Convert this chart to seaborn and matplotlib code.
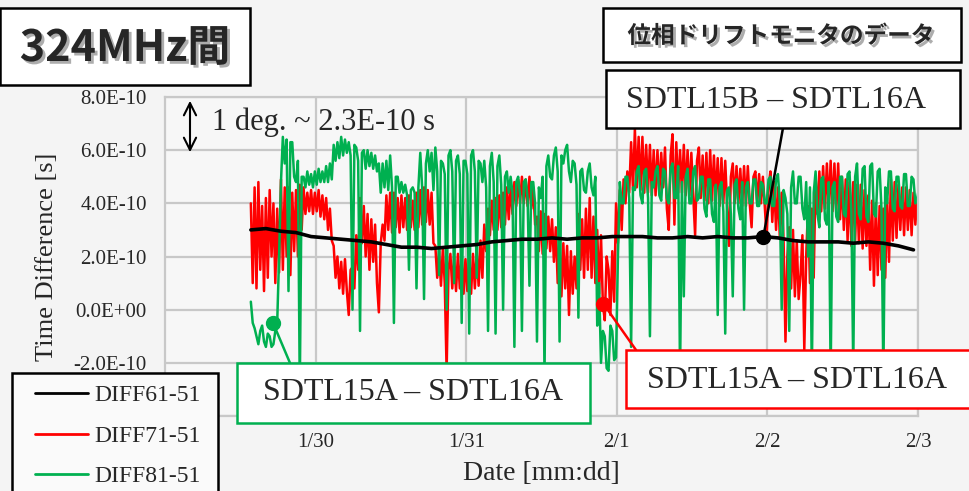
import numpy as np
import matplotlib
matplotlib.use("Agg")
import matplotlib.pyplot as plt
import matplotlib.patheffects as pe
from matplotlib.patches import Rectangle, FancyArrowPatch
from matplotlib.lines import Line2D
import seaborn as sns

# values in units of 1E-10 s
# DIFF71-51 / DIFF81-51 sampled every 0.0125 day from 1/29 13:40
diff71_51 = [
    4.0, 1.0, 4.6, 0.8,
    4.8, 1.5, 3.9, 0.7, 4.2, 1.2, 4.5, 2.0, 4.0, 1.0, 3.8, 1.4,
    4.9, 1.5, 4.6, 2.0, 4.6, 1.3, 4.4, 2.2, 4.5, 2.0, 4.7, 3.0,
    4.6, 3.6, 4.4, 3.7, 4.5, 3.6, 4.4, 3.7, 4.5, 3.5, 4.3, 3.4, 4.2, 3.0, 3.8, 2.6,
    2.4, 1.2, 2.0, 0.8, 1.8, 0.6, 1.9, 0.7, -0.2, 1.5, 1.6, 0.8,
    2.8, 1.5, 4.2, 2.5, 3.9, 2.0, 3.6, 1.5, 3.4, 1.8, 3.2, 1.0, -0.1, 2.5, 3.2, 2.6,
    4.3, 3.0, 4.4, 2.9, 4.4, 3.1, 4.2, 2.9, 4.3, 3.1, 4.2, 3.0, 4.3, 3.1, 4.1, 3.0,
    4.4, 3.1, 4.5, 3.2, 4.6, 3.3, 4.5, 3.2, 4.4, 2.5,
    2.4, 1.2, 2.2, 0.9, 2.3, 1.0, -2.3, 1.5, 2.1, 0.8, 2.0, 0.7, 2.1, 0.8, 2.0, 0.6,
    1.9, 0.7, 2.0, 0.6, 2.1, 0.8, 2.2, 0.9, 2.6, 1.2,
    3.2, 2.2, 3.8, 2.8, 4.1, 3.0, 4.2, 3.0, 4.3, 3.1, 4.4, 3.2, 4.6, 3.4, 4.7, 3.6,
    4.8, 3.9, 4.9, 4.0, 5.0, 4.0, 4.9, 3.9, 5.0, 3.8, 4.6, 3.2,
    3.5, 2.2, 3.7, 2.1, 3.6, 2.3, 3.5, 2.2, 3.4, 1.8,
    3.1, 1.0, 2.8, 0.5, 2.5, 0.8, 2.4, -0.2, 2.2, 0.6, 2.0, 0.8,
    3.6, 1.5, 3.4, 1.2, 3.8, 1.5, 4.2, 1.2, 3.5, 1.0, 3.0, 0.6, 2.8, 0.2,
    -0.4, 2.0, 1.5, -0.2, 2.2, 0.3, 4.0, 2.5, 4.5, 3.0,
    4.9, 4.0, 5.2, 4.4, 6.3, 4.5, 6.8, 4.6, 6.5, 4.5, 6.5, 4.4, 6.2, 4.4, 6.2, 4.3,
    6.0, 4.3, 6.0, 4.4, 5.9, 4.6, 6.1, 3.8,
    3.0, 5.8, 6.6, 3.2, 6.3, 4.4, 6.0, 4.4, 6.2, 4.3, 6.0, 4.3, 5.9, 4.3, 2.8, 5.6,
    6.1, 4.2, 5.8, 4.1, 5.9, 4.0, 6.0, 4.1, 5.8, 4.1, 5.7, 3.9, 5.7, 4.0, 5.6, 3.9,
    2.4, 5.0, 5.5, 4.0, 5.4, 4.0, 5.3, 3.9, 5.4, 3.9, 5.4, 4.0, 3.1, 5.0, 5.2, 4.0,
    5.1, 4.0, 5.0, 3.9, 2.7, 4.6, 5.2, 3.3, 4.8, 3.0, 4.6, 2.7,
    4.4, 2.6, -1.2, 2.0, 3.1, 0.8, 3.0, 0.5, 2.6, 0.4, 1.3, 2.8, -1.5, 2.0, 3.9, 1.0,
    3.8, 1.2,
    5.0, 3.6, 5.2, 3.7, 5.4, 3.8, 5.5, 3.8, 5.6, 3.7, 5.5, 3.7, 5.5, 3.4, 5.0, 3.0,
    4.9, 2.6, 4.8, 2.4, 4.8, 2.6, 4.7, 2.5, 4.7, 2.3, 4.5, 2.4,
    4.3, 1.5, 4.1, 0.9, 4.0, 1.3, 3.9, 1.5, 3.8, 1.2, 4.2, 1.8,
    4.9, 2.6, 4.8, 2.7, 4.7, 3.0, 4.6, 2.8, 4.6, 3.0, 4.5, 2.8, 4.4, 3.2, 4.2, 3.9,
]
diff81_51 = [
    0.3, -0.5, -0.7, -1.0, -1.3, -0.8, -0.6, -1.2, -1.4, -0.9, -1.0, -1.4,
    -1.3, -0.8, -0.5, 2.0,
    4.8, 6.5, 5.5, 6.4, 0.7, 6.3, 6.3, 5.0, 4.8, 5.6, -3.0, 5.0,
    5.0, 4.6, 5.2, 4.7, 5.1, 4.6, 5.2, 4.7, 5.3, 4.8, 5.2, 4.8, 5.4, 4.8, 5.5, 4.9,
    6.2, 5.6, 6.3, 5.7, 6.5, 5.8, 6.4, 5.9, 6.3, 5.8, 0.0, 6.2, 6.1, 5.6, -0.8, 5.9,
    6.0, 5.3, 6.0, 5.4, 5.9, 5.3, 5.8, 5.2, 5.5, 4.4, 5.5, 4.6,
    5.6, 4.5, 5.8, 4.6, -0.5, 5.0, 5.0, 4.4, 4.8, 4.4, 4.7, 4.3, 1.5, 4.5, 4.6, 4.4,
    0.8, 4.6, 5.9, 4.6, 0.4, 5.5, 6.0, 5.2, 5.9, 4.5,
    6.1, 5.2, 1.3, 5.6, 5.5, 5.1, 0.0, 5.8, 6.0, 5.2, 1.0, 5.6, 5.8, 5.1, -0.5, 5.6,
    5.6, 5.1, -0.9, 5.8, 6.0, 5.2, 1.2, 5.6, 5.5, 4.8,
    5.6, 4.6, -0.8, 5.4, 5.9, 4.8, -0.9, 5.4, 5.8, 4.7, 0.0, 5.0, 5.2, 4.4, 5.0, 4.4,
    -1.4, 4.8, 5.0, 4.3, -0.8, 4.8, 4.9, 4.2,
    0.9, 4.8, 4.8, 4.0, -1.2, 4.6, 4.2, 5.0, -2.5, 5.4, 5.8, 5.0, 4.9, 5.8, 6.1, 5.2,
    -1.2, 5.8, 5.5, 6.0, 6.2, 5.2, 4.8, 5.6, 5.5, 4.7,
    -0.3, 5.2, 5.3, 4.5, 4.4, 5.2, 5.5, 4.6, 4.3, 5.0, -0.6, 1.0, -2.0, -0.8,
    -1.0, -2.2, -2.3, -0.6, -0.8, -1.9, -1.8, 2.0,
    4.8, 4.0, 4.0, 5.0, 5.0, 4.2, -1.4, 4.6, 4.5, 5.2, 5.4, 4.3, 4.0, 5.2, 5.3, 4.2,
    -1.0, 4.8, 4.6, 5.2, 5.4, 4.3, 4.1, 5.3, 5.2, 4.2,
    4.0, 5.3, 5.5, 4.2, 4.2, 5.4, -2.5, 4.8, 0.5, 5.0, 5.3, 4.0, 4.0, 5.2, 5.4, 4.1,
    4.2, 5.0, 5.0, 3.8, 3.5, 4.9, 4.9, 3.6, 3.3, 4.7,
    -0.2, 4.6, 4.8, 3.7, -0.9, 4.5, 4.6, 3.6, 0.5, 4.7, 4.9, 3.8, 3.4, 4.8, 0.0, 4.6,
    4.8, 4.0, 4.0, 4.9, 4.9, 3.9, 3.9, 4.8, 4.7, 4.0, 4.0, 4.9, 5.0, 3.9, 3.9, 4.9,
    5.1, 4.0,
    0.0, 4.5, 4.2, 3.6, -0.8, 4.6, 5.2, 4.0, 4.0, 5.0, 5.0, 3.8, 3.4, 4.8, 2.0, 4.6,
    -2.5, 4.4,
    5.2, 3.6, 3.1, 4.9, 5.0, 3.4, 3.2, 4.8, -2.5, 4.6, 4.8, 3.5, 3.3, 5.0, 5.0, 3.6,
    3.5, 5.1, 5.2, 3.7, -2.2, 5.0, 5.5, 3.6, 3.4, 5.3, 5.4, 3.5, 3.3, 5.4, 5.5, 3.6,
    3.5, 5.2, 5.3, 3.8, -2.5, 4.6,
    4.0, 5.2, 5.2, 3.8, 3.7, 5.0, 5.0, 3.9, 3.8, 5.1, 5.1, 3.9, 3.9, 5.0, 4.9, 4.0,
    4.2, 4.6,
]
# DIFF61-51 sampled every 0.1 day
diff61_51 = [
    3.0, 3.05, 2.95, 2.9, 2.75, 2.7, 2.65, 2.6, 2.55, 2.45,
    2.35, 2.35, 2.3, 2.35, 2.4, 2.45, 2.55, 2.6, 2.65, 2.65,
    2.7, 2.65, 2.7, 2.7, 2.75, 2.75, 2.75, 2.7, 2.7, 2.75,
    2.7, 2.75, 2.7, 2.7, 2.75, 2.7, 2.6, 2.55, 2.55, 2.55,
    2.5, 2.55, 2.5, 2.4, 2.25,
]
day_labels = ["1/30", "1/31", "2/1", "2/2", "2/3"]
series_names = ["DIFF61-51", "DIFF71-51", "DIFF81-51"]

t_red = 0.57 + 0.0125 * np.arange(len(diff71_51))  # days since 1/29 00:00
t_green = 0.57 + 0.0125 * np.arange(len(diff81_51))
t_black = 0.57 + 0.1 * np.arange(len(diff61_51))

sns.set_theme(style="whitegrid")
plt.rcParams['font.family'] = ['Liberation Serif', 'DejaVu Serif']
jp = ['Noto Sans CJK JP', 'DejaVu Sans']

W, H = 969, 491
fig = plt.figure(figsize=(W / 100, H / 100), dpi=100, facecolor='#f4f4f4')


def fx(px):
    return px / W


def fy(py):
    return 1 - py / H


ax = fig.add_axes([fx(165), fy(416), fx(918) - fx(165), fy(97) - fy(416)])
ax.set_facecolor('#f7f7f7')

red, green = '#ff0000', '#00b050'
sns.lineplot(x=t_red, y=np.array(diff71_51) * 1e-10, color=red, lw=1.8, ax=ax, sort=False)
sns.lineplot(x=t_green, y=np.array(diff81_51) * 1e-10, color=green, lw=1.8, ax=ax, sort=False)
sns.lineplot(x=t_black, y=np.array(diff61_51) * 1e-10, color='black', lw=2.6, ax=ax, sort=False)

ax.set_xlim(0, 5)
ax.set_xticks(np.arange(1, 6))
ax.set_xticklabels(day_labels)
yt = np.arange(-4, 9, 2) * 1e-10
ax.set_ylim(-4e-10, 8e-10)
ax.set_yticks(yt)
# the -4.0E-10 label sits under the legend box in the original
ax.set_yticklabels([f"{v:.1E}" if v > -3e-10 else "" for v in yt])
ax.tick_params(axis='y', labelsize=15, pad=13, length=0)
ax.tick_params(axis='x', labelsize=15, pad=12, length=0)
ax.grid(color='#c8c8c8', lw=1.6)
for s in ax.spines.values():
    s.set_color('#c8c8c8')
    s.set_linewidth(1.6)
ax.set_ylabel("Time Difference [s]", fontsize=19, va='center')
ax.yaxis.set_label_coords((47 - 165) / 753, 0.5)
ax.set_xlabel("Date [mm:dd]", fontsize=20, va='center')
ax.xaxis.set_label_coords(0.5, (416 - 473) / 319)

# callout dots and leader lines
callouts = [
    ((763 - 165) / 150.5, 2.75e-10, (783, 128), 'black'),
    ((273 - 165) / 150.5, -0.5e-10, (290, 363), green),
    ((603 - 165) / 150.5, 0.23e-10, (636, 350), red),
]
for tx, vy, (px, py), c in callouts:
    ax.annotate('', xy=(tx, vy), xytext=(fx(px), fy(py)), textcoords='figure fraction',
                arrowprops=dict(arrowstyle='-', color=c, lw=1.8, shrinkA=0, shrinkB=0),
                annotation_clip=False)
    ax.plot([tx], [vy], 'o', ms=10, color=c, zorder=6)


def box(x0, y0, x1, y1, ec='black', fc='white'):
    fig.add_artist(Rectangle((fx(x0), fy(y1)), fx(x1) - fx(x0), fy(y0) - fy(y1),
                             transform=fig.transFigure, fc=fc, ec=ec, lw=1.8, zorder=10))


shadow = [pe.SimplePatchShadow(offset=(2, -2), shadow_rgbFace='#777777', alpha=0.6), pe.Normal()]

box(0, 8, 250, 85)
fig.text(fx(125), fy(48), "324MHz間", family=jp, weight='bold', fontsize=31,
         ha='center', va='center', zorder=11, path_effects=shadow)
box(603, 8, 961, 62)
fig.text(fx(781), fy(36), "位相ドリフトモニタのデータ", family=jp, weight='bold', fontsize=17,
         ha='center', va='center', zorder=11, path_effects=shadow)
box(606, 70, 960, 128)
fig.text(fx(776), fy(100), "SDTL15B – SDTL16A", fontsize=23, ha='center', va='center', zorder=11)
box(237, 363, 590, 423, ec=green)
fig.text(fx(413), fy(393), "SDTL15A – SDTL16A", fontsize=23, ha='center', va='center', zorder=11)
box(626, 350, 975, 408, ec=red)
fig.text(fx(797), fy(380), "SDTL15A – SDTL16A", fontsize=23, ha='center', va='center', zorder=11)

# scale marker
fig.add_artist(FancyArrowPatch((fx(190), fy(98)), (fx(190), fy(155)), transform=fig.transFigure,
                               arrowstyle='<->', mutation_scale=22, lw=1.5, color='black', zorder=11))
fig.text(fx(212), fy(122), "1 deg. ~ 2.3E-10 s", fontsize=22, ha='left', va='center', zorder=11)

# legend
box(12, 373, 218, 500, fc='#fafafa')
handles = [Line2D([], [], color=c, lw=2) for c in ['black', red, green]]
leg = fig.legend(handles, series_names, loc='center left', bbox_to_anchor=(fx(35), fy(436)),
                 frameon=False, fontsize=17, borderpad=0, borderaxespad=0,
                 handlelength=2.25, handletextpad=0.25, labelspacing=0.8)
leg.set_zorder(12)

fig.savefig("out.png", dpi=100, facecolor=fig.get_facecolor())
